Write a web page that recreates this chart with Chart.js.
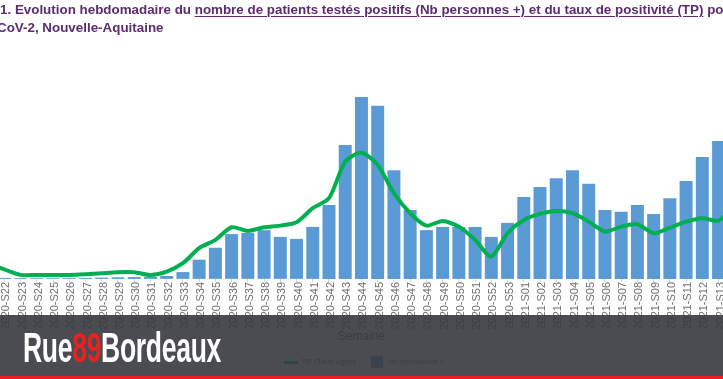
<!DOCTYPE html>
<html>
<head>
<meta charset="utf-8">
<script src="https://cdn.jsdelivr.net/npm/chart.js@4"></script>
<style>
  html, body { margin:0; padding:0; width:723px; height:379px; overflow:hidden; background:#fff; position:relative; }
  #title { position:absolute; top:1px; left:0; font-family:'Liberation Sans', Arial, sans-serif; font-weight:bold; font-size:13px; line-height:18px; color:#5b2c6f; white-space:nowrap; }
  #title u { text-decoration-thickness:1px; text-underline-offset:2px; }
  #wrap { position:absolute; left:-20px; top:0; width:768px; height:376px; }
  #overlay { position:absolute; left:0; top:315px; width:723px; height:61px; background:rgba(55,57,62,0.9); }
  #redbar { position:absolute; left:0; top:376px; width:723px; height:3px; background:#ee1d23; }
  #logo { position:absolute; left:23px; top:326px; font-family:'Liberation Sans Narrow', 'Liberation Sans', Arial, sans-serif; font-weight:bold; font-size:43px; line-height:43px; color:#fff; white-space:nowrap; transform-origin:left top; letter-spacing:-0.5px; }
  #logo span { color:#e8231f; }
</style>
</head>
<body>
<div id="wrap"><canvas id="c" width="768" height="376"></canvas></div>
<div id="title"><span id="pre">Figure </span>1. <span id="meas">Evolution hebdomadaire du <u>nombre de patients testés positifs (Nb personnes +) et du taux de positivité (TP)</u></span> pour le<br>SARS-CoV-2, Nouvelle-Aquitaine</div>
<div id="overlay"></div>
<div id="redbar"></div>
<div id="logo">Rue<span>89</span>Bordeaux</div>
<script>
// Weeks (tick labels)
const weeks = [
  '2020-S21','2020-S22','2020-S23','2020-S24','2020-S25','2020-S26','2020-S27','2020-S28','2020-S29','2020-S30',
  '2020-S31','2020-S32','2020-S33','2020-S34','2020-S35','2020-S36','2020-S37','2020-S38','2020-S39','2020-S40',
  '2020-S41','2020-S42','2020-S43','2020-S44','2020-S45','2020-S46','2020-S47','2020-S48','2020-S49','2020-S50',
  '2020-S51','2020-S52','2020-S53','2021-S01','2021-S02','2021-S03','2021-S04','2021-S05','2021-S06','2021-S07',
  '2021-S08','2021-S09','2021-S10','2021-S11','2021-S12','2021-S13','2021-S14'
];
// Nb personnes + (weekly positive patients)
const nbPositifs = [
  150, 130, 100, 90, 90, 100, 120, 160, 200, 230,
  250, 375, 850, 2400, 3900, 5600, 5750, 6100, 5250, 5000,
  6500, 9250, 16750, 22750, 21650, 13600, 8600, 6100, 6500, 6500,
  6500, 5250, 7000, 10250, 11500, 12600, 13600, 11900, 8600, 8400,
  9250, 8100, 10100, 12250, 15250, 17250, null
];
// TP (Tous âges), taux de positivité en %
const tauxPositivite = [
  1.5, 0.95, 0.4, 0.4, 0.4, 0.4, 0.47, 0.57, 0.67, 0.67,
  0.4, 0.73, 1.57, 3.07, 3.9, 5.17, 4.8, 5.17, 5.33, 5.67,
  7.07, 8.07, 11.73, 12.63, 11.4, 8.57, 6.57, 5.33, 5.8, 5.23,
  3.9, 2.23, 4.57, 5.9, 6.5, 6.8, 6.57, 5.73, 4.73, 5.23,
  5.47, 4.57, 5.13, 5.73, 6.07, 5.83, 7.4
];

const LINE_COLOR = '#00b050';
const BAR_COLOR = '#5b9bd5';

// fit title & logo sizes
(function(){
  const t = document.getElementById('title');
  const m = document.getElementById('meas');
  const w = m.getBoundingClientRect().width;
  t.style.fontSize = (13 * 689 / w) + 'px';
  const pre = document.getElementById('pre');
  t.style.left = (-pre.getBoundingClientRect().width) + 'px';
  const logo = document.getElementById('logo');
  const lw = logo.getBoundingClientRect().width;
  logo.style.transform = 'scaleX(' + (198 / lw) + ')';
})();

// legend symbols
function symbol(w, h, color) {
  const cv = document.createElement('canvas');
  cv.width = w; cv.height = h;
  const g = cv.getContext('2d');
  g.fillStyle = color;
  g.fillRect(0, 0, w, h);
  return cv;
}
const lineSymbol = symbol(14, 3, LINE_COLOR);
const barSymbol = symbol(12, 12, BAR_COLOR);

Chart.defaults.font.family = "'Liberation Sans', Arial, sans-serif";
new Chart(document.getElementById('c'), {
  type: 'bar',
  data: {
    labels: weeks,
    datasets: [
      {
        type: 'line',
        label: 'TP (Tous âges)',
        data: tauxPositivite,
        yAxisID: 'y1',
        borderColor: LINE_COLOR,
        backgroundColor: LINE_COLOR,
        borderWidth: 4,
        pointRadius: 0,
        tension: 0.25,
        order: 0
      },
      {
        type: 'bar',
        label: 'Nb personnes +',
        data: nbPositifs,
        yAxisID: 'y',
        backgroundColor: BAR_COLOR,
        barPercentage: 1,
        categoryPercentage: 0.8,
        order: 1
      }
    ]
  },
  options: {
    responsive: false,
    animation: false,
    layout: { padding: { top: 39, left: 0, right: 0, bottom: 0 } },
    plugins: {
      legend: {
        position: 'bottom',
        labels: {
          usePointStyle: true,
          pointStyleWidth: 14,
          font: { size: 8 },
          color: '#666',
          padding: 14,
          generateLabels: function(chart) {
            const items = Chart.defaults.plugins.legend.labels.generateLabels(chart);
            items.forEach(function(it){ it.pointStyle = it.datasetIndex === 0 ? lineSymbol : barSymbol; });
            return items;
          }
        }
      },
      tooltip: { enabled: false }
    },
    scales: {
      x: {
        grid: { display: true, drawOnChartArea: false, offset: false, tickLength: 3, color: '#c8d3de' },
        border: { display: false },
        ticks: { autoSkip: false, maxRotation: 90, minRotation: 90, font: { size: 11 }, color: '#707070', padding: 0, labelOffset: 2 },
        title: { display: true, text: 'Semaine', font: { size: 12 }, color: '#555', padding: { top: 0, bottom: 0 } }
      },
      y: { display: false, min: 0, max: 30000 },
      y1: { display: false, min: 0, max: 24, position: 'right' }
    }
  }
});
</script>
</body>
</html>
